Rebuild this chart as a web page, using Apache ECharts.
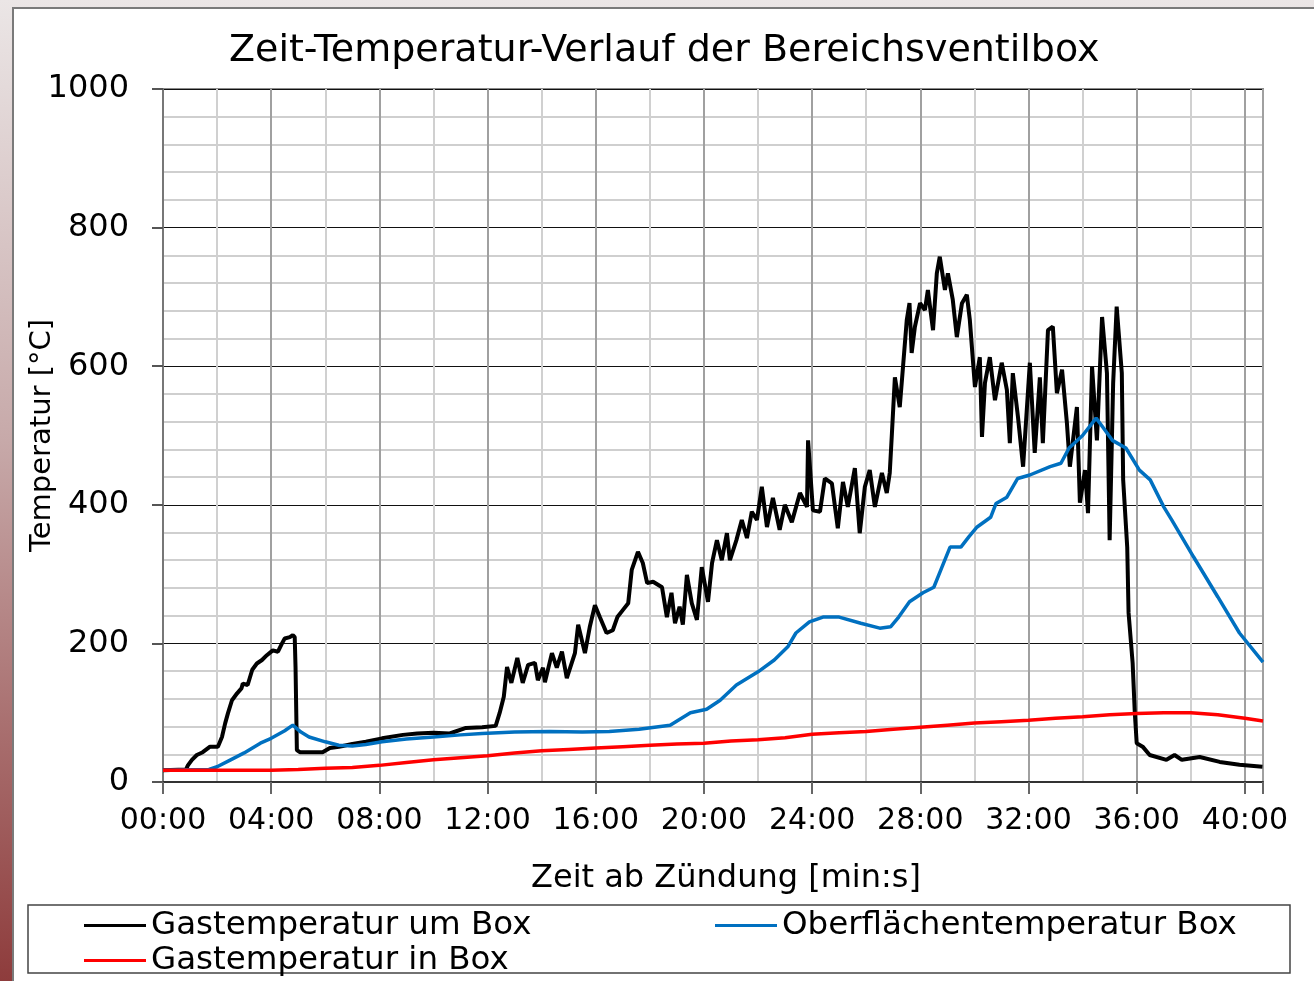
<!DOCTYPE html>
<html>
<head>
<meta charset="utf-8">
<script src="https://cdn.jsdelivr.net/npm/echarts@6/dist/echarts.min.js"></script>
<style>
  html, body { margin: 0; padding: 0; }
  body {
    width: 1314px; height: 981px; overflow: hidden; position: relative;
    background: linear-gradient(to bottom, #ebe6e6 0%, #c7a9a9 45%, #8e3c3c 100%);
  }
  #frame {
    position: absolute; left: 12px; top: 7px; width: 1310px; height: 980px;
    background: #fff; border: 2px solid #7a7a7a; box-sizing: border-box;
  }
  #chart { position: absolute; left: 0; top: 0; width: 1314px; height: 981px; }
</style>
</head>
<body>
<div id="frame"></div>
<div id="chart"></div>
<script>
// Zeit in Minuten ab Zündung
let blackTime = [0, 0.85, 0.92, 1.07, 1.25, 1.47, 1.74, 2.03, 2.18, 2.3, 2.4, 2.55, 2.74, 2.9, 2.95, 3.13, 3.3, 3.47, 3.66, 3.84,
    4.06, 4.25, 4.4, 4.5, 4.69, 4.8, 4.87, 4.9, 4.95, 5.06, 5.55, 5.9, 6.17, 6.5, 6.65, 7.0, 7.5, 8.1, 8.87, 9.4,
    10.0, 10.6, 11.2, 11.8, 12.3, 12.45, 12.6, 12.72, 12.88, 13.1, 13.3, 13.5, 13.75, 13.86, 14.05, 14.12, 14.38, 14.56, 14.75, 14.93,
    15.23, 15.35, 15.6, 15.78, 15.97, 16.15, 16.4, 16.63, 16.8, 17.0, 17.2, 17.33, 17.56, 17.74, 17.9, 18.12, 18.45, 18.63, 18.8, 18.93,
    19.1, 19.22, 19.37, 19.55, 19.74, 19.92, 20.15, 20.3, 20.48, 20.66, 20.85, 20.96, 21.2, 21.4, 21.59, 21.77, 21.96, 22.14, 22.33, 22.55,
    22.8, 22.99, 23.25, 23.55, 23.81, 23.85, 24.03, 24.29, 24.47, 24.73, 24.95, 25.14, 25.32, 25.58, 25.76, 25.95, 26.13, 26.32, 26.58, 26.76,
    26.87, 26.95, 27.06, 27.24, 27.36, 27.5, 27.6, 27.68, 27.8, 27.99, 28.17, 28.28, 28.47, 28.61, 28.72, 28.91, 29.02, 29.2, 29.35, 29.54,
    29.72, 29.83, 30.02, 30.2, 30.28, 30.39, 30.57, 30.76, 31.01, 31.2, 31.31, 31.42, 31.61, 31.8, 32.05, 32.23, 32.42, 32.53, 32.72, 32.9,
    33.05, 33.24, 33.42, 33.53, 33.79, 33.9, 34.09, 34.2, 34.35, 34.53, 34.72, 34.9, 35.0, 35.13, 35.26, 35.45, 35.5, 35.65, 35.7, 35.85,
    35.93, 36.0, 36.22, 36.48, 37.1, 37.4, 37.67, 38.33, 39.07, 39.8, 40.65];
let blackTemp = [17, 18, 24, 32, 39, 43, 51, 51, 65, 85, 99, 118, 128, 135, 142, 140, 162, 171, 176, 183,
    190, 188, 200, 207, 209, 212, 209, 166, 46, 43, 43, 43, 49, 51, 52, 55, 58, 63, 68, 70,
    71, 70, 78, 79, 81, 100, 123, 166, 143, 179, 143, 169, 172, 147, 165, 144, 186, 165, 188, 150,
    186, 227, 186, 224, 255, 238, 215, 219, 238, 248, 258, 306, 332, 316, 287, 289, 281, 238, 273, 229,
    253, 227, 299, 258, 234, 310, 260, 316, 349, 320, 359, 320, 349, 378, 352, 390, 378, 426, 368, 410,
    364, 400, 375, 417, 397, 493, 392, 390, 438, 431, 366, 433, 397, 453, 359, 426, 450, 397, 446, 417,
    446, 503, 584, 541, 599, 667, 691, 619, 657, 691, 681, 710, 652, 734, 758, 710, 734, 696, 642, 691,
    703, 667, 570, 613, 498, 576, 613, 551, 605, 566, 489, 590, 527, 455, 605, 475, 584, 489, 652, 657,
    561, 595, 518, 455, 541, 403, 450, 388, 599, 493, 671, 590, 349, 576, 686, 590, 436, 339, 244, 172,
    100, 56, 51, 39, 32, 39, 32, 36, 29, 25, 22];

let blueTime = [0, 1.7, 2.0, 2.5, 3.0, 3.6, 4.0, 4.5, 4.8, 5.1, 5.4, 6.0, 6.5, 7.0, 7.5, 8.1, 9.0, 10.0, 11.0, 11.8,
    13.0, 14.3, 15.5, 16.5, 17.6, 18.75, 19.5, 20.1, 20.6, 21.2, 22.0, 22.6, 23.1, 23.4, 23.9, 24.4, 25.0, 25.8, 26.5, 26.9,
    27.2, 27.6, 28.1, 28.5, 28.8, 29.1, 29.5, 29.8, 30.1, 30.6, 30.8, 31.2, 31.6, 32.05, 32.8, 33.2, 33.5, 34.0, 34.5, 34.75,
    35.1, 35.6, 36.1, 36.5, 37.0, 37.3, 38.1, 39.0, 39.8, 40.67];
let blueTemp = [17, 18, 22, 32, 42, 56, 63, 74, 82, 72, 65, 58, 53, 52, 54, 58, 62, 65, 68, 70,
    72, 73, 72, 73, 76, 82, 100, 105, 118, 140, 159, 176, 195, 215, 231, 238, 238, 229, 222, 224,
    238, 260, 273, 281, 310, 339, 339, 354, 368, 382, 402, 411, 438, 443, 455, 460, 482, 500, 525, 512,
    493, 482, 450, 436, 397, 378, 325, 267, 215, 173];

let redTime = [0, 4, 5, 6, 7, 8, 9, 10, 11, 12, 13, 14, 15, 16, 17, 18, 19, 20, 21, 22,
    23, 24, 25, 26, 27, 28, 29, 30, 31, 32, 33, 34, 35, 36, 37, 38, 39, 40, 40.67];
let redTemp = [17, 17, 18, 20, 21, 24, 28, 32, 35, 38, 42, 45, 47, 49, 51, 53, 55, 56, 59, 61,
    64, 69, 71, 73, 76, 79, 82, 85, 87, 89, 92, 94, 97, 99, 100, 100, 97, 92, 88];

let yTicks = [0, 200, 400, 600, 800, 1000];

function pairs(t, v) {
    return t.map((x, i) => [x, v[i]]);
}
function mmss(v) {
    if (Math.abs(v % 4) > 1e-6) return '';
    return (v < 10 ? '0' : '') + v + ':00';
}

let font = 'DejaVu Sans';
let myChart = echarts.init(document.getElementById('chart'));
let option = {
    animation: false,
    backgroundColor: 'transparent',
    title: {
        text: 'Zeit-Temperatur-Verlauf der Bereichsventilbox',
        left: 224,
        top: 27,
        textStyle: { fontFamily: font, fontSize: 38, fontWeight: 'normal', color: '#000' }
    },
    grid: {
        left: 163, top: 89, width: 1100, height: 693,
        containLabel: false,
        outerBoundsMode: 'none',
        show: true, borderColor: '#8a8a8a', borderWidth: 2
    },
    legend: [{
        orient: 'vertical',
        left: 84, top: 909,
        padding: 0,
        itemGap: 2,
        itemWidth: 62, itemHeight: 3,
        icon: 'rect',
        data: ['Gastemperatur um Box', 'Gastemperatur in Box'],
        textStyle: { fontFamily: font, fontSize: 32.5, lineHeight: 32, color: '#000' }
    }, {
        orient: 'vertical',
        left: 715, top: 909,
        padding: 0,
        itemWidth: 62, itemHeight: 3,
        icon: 'rect',
        data: ['Oberflächentemperatur Box'],
        textStyle: { fontFamily: font, fontSize: 32.5, lineHeight: 32, color: '#000' }
    }],
    graphic: [{
        type: 'rect',
        shape: { x: 28, y: 905, width: 1262, height: 68 },
        style: { fill: 'none', stroke: '#444', lineWidth: 1.5 },
        silent: true
    }],
    xAxis: {
        type: 'value',
        min: 0, max: 40.67, interval: 4,
        name: 'Zeit ab Zündung [min:s]',
        nameLocation: 'middle',
        nameGap: 81,
        nameMoveOverlap: false,
        nameTextStyle: { fontFamily: font, fontSize: 32, color: '#000', padding: [0, 0, 0, 26] },
        axisLine: { lineStyle: { color: '#333', width: 2 } },
        axisTick: { show: true, length: 12, lineStyle: { color: '#666', width: 2 } },
        axisLabel: { formatter: mmss, margin: 24, fontFamily: font, fontSize: 30, color: '#000', showMaxLabel: false },
        splitLine: { show: true, lineStyle: { color: '#a0a0a0', width: 2 } },
        minorTick: { show: true, splitNumber: 2, length: 0 },
        minorSplitLine: { show: true, lineStyle: { color: '#d0d0d0', width: 2 } }
    },
    yAxis: {
        type: 'value',
        min: yTicks[0], max: yTicks[yTicks.length - 1], interval: 200,
        name: 'Temperatur [°C]',
        nameLocation: 'middle',
        nameGap: 106,
        nameMoveOverlap: false,
        nameTextStyle: { fontFamily: font, fontSize: 29, color: '#000' },
        axisLine: { show: true, lineStyle: { color: '#777', width: 2 } },
        axisTick: { show: true, length: 11, lineStyle: { color: '#555', width: 2 } },
        axisLabel: { formatter: v => String(v), margin: 34, fontFamily: font, fontSize: 32, color: '#000' },
        splitLine: { show: true, lineStyle: { color: '#111', width: 1 } },
        minorTick: { show: true, splitNumber: 5, length: 0 },
        minorSplitLine: { show: true, lineStyle: { color: '#cfcfcf', width: 2 } }
    },
    series: [{
        name: 'Gastemperatur um Box',
        type: 'line',
        showSymbol: false,
        color: '#000000',
        lineStyle: { width: 4, color: '#000000' },
        data: pairs(blackTime, blackTemp)
    }, {
        name: 'Oberflächentemperatur Box',
        type: 'line',
        showSymbol: false,
        color: '#0070c0',
        lineStyle: { width: 3.5, color: '#0070c0' },
        data: pairs(blueTime, blueTemp)
    }, {
        name: 'Gastemperatur in Box',
        type: 'line',
        showSymbol: false,
        color: '#ff0000',
        lineStyle: { width: 3.5, color: '#ff0000' },
        data: pairs(redTime, redTemp)
    }]
};
myChart.setOption(option);
</script>
</body>
</html>
